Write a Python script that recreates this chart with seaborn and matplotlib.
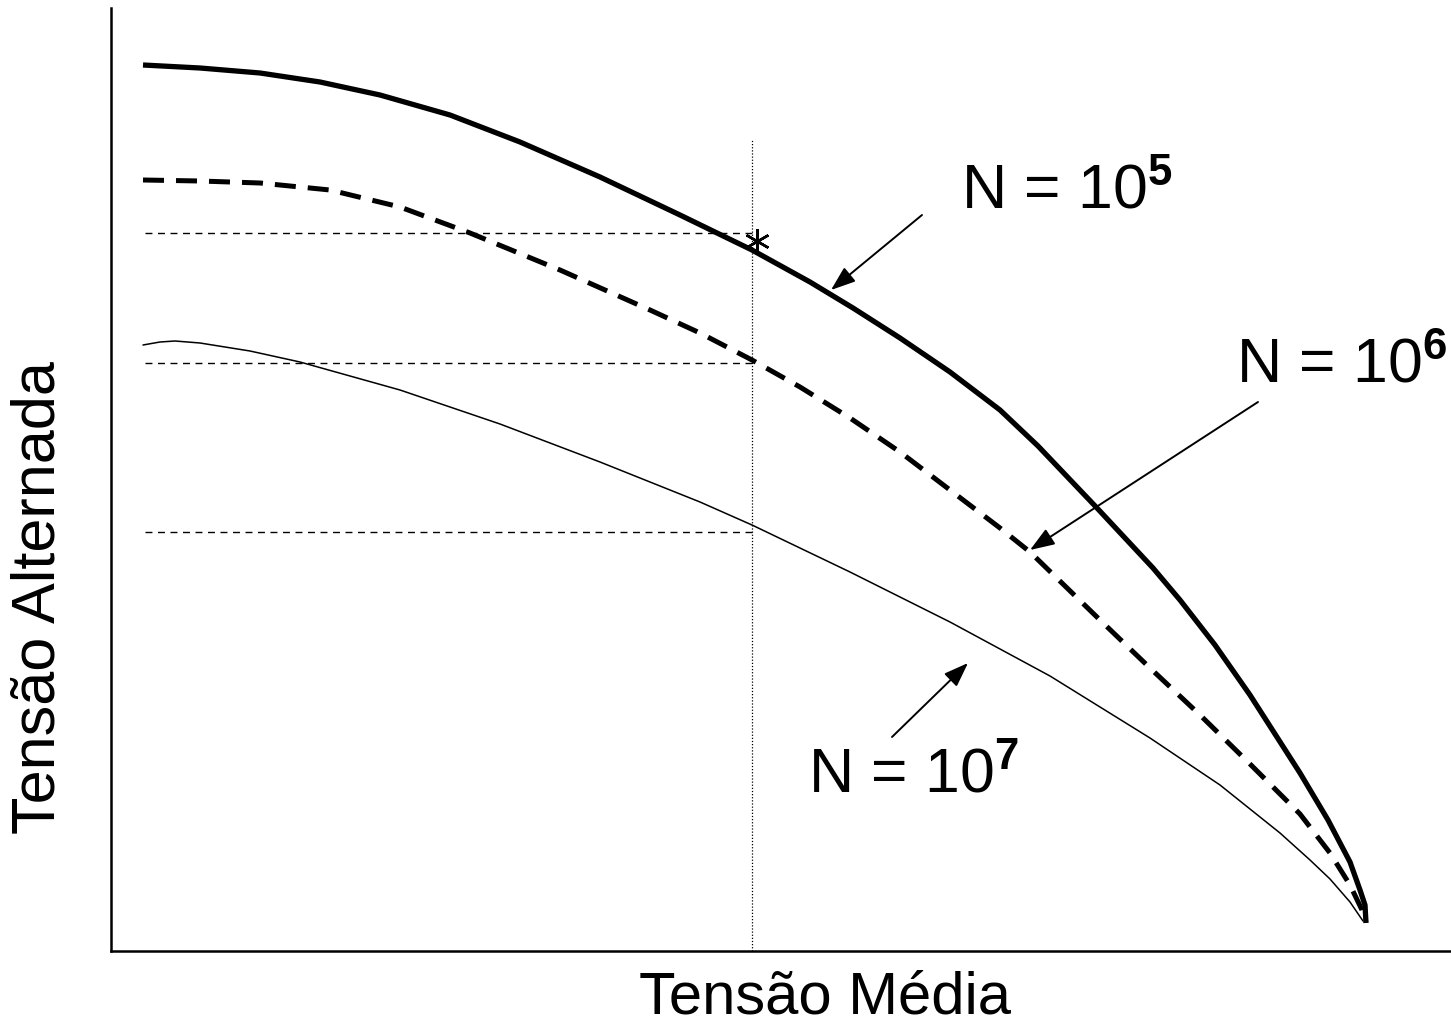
import numpy as np
import pandas as pd
import matplotlib
matplotlib.use("Agg")
import matplotlib.pyplot as plt
import seaborn as sns

# Curves of constant life (mean stress vs. alternating stress, arbitrary units)
n5_mean = [32, 89, 149, 209, 269, 339, 409, 489, 569, 641, 699, 742, 789, 839, 889, 927,
           986, 1042, 1069, 1104, 1139, 1189, 1217, 1239, 1249, 1254, 1255]
n5_alt = [886, 883, 878, 869, 856, 836, 809, 774, 736, 701, 669, 643, 613, 579, 541, 505,
          443, 383, 351, 306, 256, 178, 131, 89, 61, 46, 28]

n6_mean = [32, 89, 149, 219, 289, 359, 449, 539, 589, 641, 689, 739, 789, 839, 889, 919,
           989, 1039, 1089, 1139, 1189, 1219, 1239, 1251, 1255]
n6_alt = [771, 770, 768, 761, 744, 718, 681, 641, 618, 591, 564, 533, 499, 461, 423, 399,
          331, 283, 236, 187, 137, 98, 66, 41, 29]

n7_mean = [32, 49, 64, 89, 139, 189, 289, 389, 489, 589, 641, 739, 839, 939, 1039, 1109,
           1169, 1199, 1219, 1239, 1252]
n7_alt = [606, 609, 610, 608, 600, 589, 561, 527, 489, 449, 426, 379, 329, 275, 213, 166,
          118, 91, 72, 49, 30]

# Reference construction lines
ref_mean = 641
ref_levels = [718, 588, 419]
ref_start = 34
ref_top = 811
star_point = (646, 710)

# Labels and their arrows (arrow ends in data units, text anchors in figure pixels)
labels = ["N = 10", "N = 10", "N = 10"]
exponents = ["5", "6", "7"]
text_px = [(961, 209), (1236, 382), (808, 793)]
arrow_start = [(811, 736), (1147, 549), (781, 214)]
arrow_tip = [(720, 661), (919, 401), (857, 288)]

W, H = 1451, 1024
sns.set_style("white")
plt.rcParams["font.family"] = ["Liberation Sans", "DejaVu Sans"]
plt.rcParams["text.color"] = "black"
plt.rcParams["mathtext.fontset"] = "custom"
plt.rcParams["mathtext.rm"] = "Liberation Sans"
plt.rcParams["mathtext.bf"] = "Liberation Sans:bold"

fig = plt.figure(figsize=(W / 100, H / 100), dpi=100)
ax = fig.add_axes([111 / W, 73 / H, 1340 / W, 943 / H])

df = pd.concat([
    pd.DataFrame({"mean": n5_mean, "alt": n5_alt, "N": "1e5"}),
    pd.DataFrame({"mean": n6_mean, "alt": n6_alt, "N": "1e6"}),
    pd.DataFrame({"mean": n7_mean, "alt": n7_alt, "N": "1e7"}),
])

sns.lineplot(data=df[df.N == "1e5"], x="mean", y="alt", sort=False, ax=ax,
             color="black", lw=3.8, solid_joinstyle="round", solid_capstyle="butt")
sns.lineplot(data=df[df.N == "1e6"], x="mean", y="alt", sort=False, ax=ax,
             color="black", lw=3.6)
ax.lines[-1].set_dashes([4.2, 2.4])
sns.lineplot(data=df[df.N == "1e7"], x="mean", y="alt", sort=False, ax=ax,
             color="black", lw=1.1, solid_joinstyle="round")

for lvl in ref_levels:
    ax.plot([ref_start, ref_mean], [lvl, lvl], color="black", lw=1.0,
            dashes=(5, 4))
ax.plot([ref_mean, ref_mean], [0, ref_top], color="black", lw=0.9,
        dashes=(1, 1.5))
ax.plot(*star_point, marker=(6, 2, 0), markersize=18, mew=1.8, color="black")

for s, t in zip(arrow_start, arrow_tip):
    ax.annotate("", xy=t, xytext=s,
                arrowprops=dict(arrowstyle="-|>,head_length=1.5,head_width=0.55",
                                color="black", lw=1.4, shrinkA=0, shrinkB=0))

for lab, ex, (px, py) in zip(labels, exponents, text_px):
    fig.text(px / W, 1 - py / H, lab + r"$^{\mathbf{" + ex + "}}$",
             fontsize=45, ha="left", va="baseline", color="black")

ax.set_xlim(0, 1340)
ax.set_ylim(0, 943)
ax.set_xticks([])
ax.set_yticks([])
ax.set_xlabel("")
ax.set_ylabel("")
sns.despine(ax=ax)
for sp in ["left", "bottom"]:
    ax.spines[sp].set_linewidth(1.8)
    ax.spines[sp].set_color("black")

fig.text(825 / W, 1 - 1013 / H, "Tensão Média", fontsize=43,
         ha="center", va="baseline", color="black")
fig.text(55 / W, 1 - 598 / H, "Tensão Alternada", fontsize=44,
         rotation=90, ha="center", va="baseline", rotation_mode="anchor",
         color="black")

fig.savefig("out.png", dpi=100)
